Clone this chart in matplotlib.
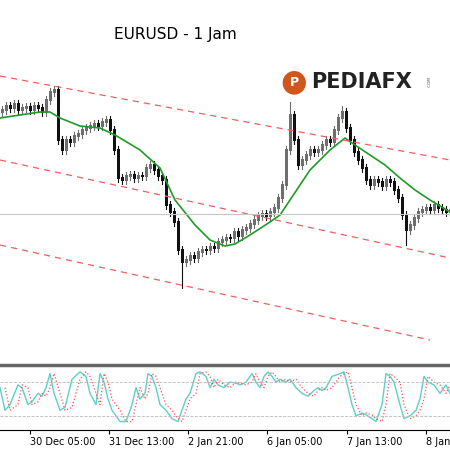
import matplotlib
matplotlib.use("Agg")
import matplotlib.pyplot as plt

# price values given in chart-pixel units (lower = higher price)
candle_x = list(range(2, 451, 4))
closes = [110, 106, 108, 104, 110, 108, 107, 110, 106, 108, 112, 100, 92, 90, 140, 150, 140, 142, 136, 134,
          130, 128, 126, 124, 126, 122, 120, 130, 150, 178, 180, 176, 175, 178, 176, 176, 168, 165, 170, 176,
          180, 205, 212, 222, 250, 262, 260, 256, 258, 252, 250, 250, 247, 248, 242, 240, 238, 238, 232, 236,
          230, 228, 224, 220, 216, 214, 216, 212, 208, 198, 185, 150, 115, 140, 165, 160, 155, 150, 152, 150,
          145, 140, 142, 130, 118, 112, 128, 140, 152, 160, 168, 180, 185, 180, 182, 186, 180, 182, 190, 198,
          215, 230, 225, 218, 212, 210, 208, 210, 205, 208, 210, 212, 210]
extreme_highs = {13: 86, 72: 102, 85: 106}
extreme_lows = {45: 288, 101: 245}

ma_x = [0, 20, 40, 50, 60, 80, 100, 115, 140, 160, 175, 195, 210, 225, 235, 250, 270, 280, 290, 300,
        310, 330, 345, 355, 370, 385, 400, 415, 430, 450]
ma_y = [118, 115, 112, 112, 118, 126, 128, 135, 150, 168, 200, 225, 240, 246, 244, 235, 222, 215, 200, 185,
        170, 150, 138, 145, 155, 165, 178, 190, 200, 212]

channels = [((0, 450), (76, 160)), ((0, 450), (160, 258)), ((0, 430), (245, 340))]

stoch_x = [0, 5, 10, 18, 22, 28, 32, 38, 42, 46, 50, 54, 60, 65, 72, 80, 86, 90, 96, 100, 104, 108, 112, 120,
           126, 132, 136, 140, 145, 148, 152, 156, 160, 166, 172, 178, 182, 186, 190, 196, 200, 206, 210, 214,
           218, 224, 230, 236, 240, 246, 252, 256, 260, 264, 268, 272, 276, 280, 286, 290, 296, 302, 308, 314,
           318, 322, 326, 332, 340, 344, 348, 352, 356, 362, 366, 372, 376, 382, 386, 390, 394, 400, 404, 410,
           416, 420, 424, 428, 434, 440, 446, 450]
stoch_k = [70, 30, 40, 75, 70, 40, 45, 60, 55, 70, 95, 60, 30, 35, 85, 98, 90, 60, 40, 95, 80, 50, 30, 10,
           10, 40, 70, 50, 60, 95, 90, 70, 40, 30, 15, 10, 30, 50, 60, 95, 98, 90, 70, 85, 75, 70, 80, 78, 75,
           80, 95, 80, 70, 90, 98, 90, 80, 85, 80, 85, 70, 60, 55, 65, 70, 65, 70, 90, 95, 98, 70, 40, 20, 25,
           22, 15, 10, 40, 95, 90, 80, 40, 15, 20, 30, 50, 90, 80, 75, 60, 75, 60]

tick_pos = [30, 109, 188, 267, 347, 426]
tick_labels = ["30 Dec 05:00", "31 Dec 13:00", "2 Jan 21:00", "6 Jan 05:00", "7 Jan 13:00", "8 Jan 21:00"]

fig = plt.figure(figsize=(4.5, 4.5), dpi=100)
ax = fig.add_axes([0, 88 / 450, 1, 362 / 450])
ax2 = fig.add_axes([0, 20 / 450, 1, 66 / 450])

opens = [closes[0] + 2] + closes[:-1]
for i, (x, o, c) in enumerate(zip(candle_x, opens, closes)):
    hi = min(o, c) - 4
    lo = max(o, c) + 4
    hi = extreme_highs.get(i, hi)
    lo = extreme_lows.get(i, lo)
    col = "#6e6e6e" if c < o else "#111111"
    ax.plot([x, x], [hi, lo], color=col, lw=0.8)
    ax.bar(x, abs(o - c) + 1.2, bottom=min(o, c) - 0.6, width=3.0, color=col)

ax.plot(ma_x, ma_y, color="#1f9a2a", lw=1.2)
for xs, ys in channels:
    ax.plot(xs, ys, color="#f06060", lw=0.9, dashes=(5, 4))
ax.axhline(214, color="#c8c8c8", lw=0.8)
ax.set_xlim(0, 450)
ax.set_ylim(362, 0)
ax.axis("off")

ax.text(175, 35, "EURUSD - 1 Jam", fontsize=11, ha="center", va="center")
ax.text(311, 82, "PEDIAFX", fontsize=15, fontweight="bold", ha="left", va="center", color="#222222")
ax.text(294, 82, "●", fontsize=22, ha="center", va="center", color="#d0561e")
ax.text(294, 82, "P", fontsize=9, fontweight="bold", ha="center", va="center", color="white")
ax.text(430, 82, ".COM", fontsize=3, rotation=90, ha="center", va="center", color="#444444")

ax2.plot(stoch_x, stoch_k, color="#5ccfc8", lw=1)
ax2.plot(stoch_x[1:], stoch_k[:-1], color="#ff5050", lw=0.9, ls=":")
ax2.axhline(80, color="#bbbbbb", lw=0.6, ls="--")
ax2.axhline(20, color="#bbbbbb", lw=0.6, ls="--")
ax2.set_xlim(0, 450)
ax2.set_ylim(-5, 112)
ax2.set_yticks([])
for s in ["top", "right", "left"]:
    ax2.spines[s].set_visible(False)
ax2.set_xticks(tick_pos)
ax2.set_xticklabels(tick_labels, fontsize=7, ha="left")
ax2.tick_params(axis="x", length=3, pad=2)

fig.add_artist(plt.Line2D([0, 1], [1 - 365 / 450, 1 - 365 / 450], color="#666666", lw=2.5))
fig.savefig("out.png", dpi=100, facecolor="white")
